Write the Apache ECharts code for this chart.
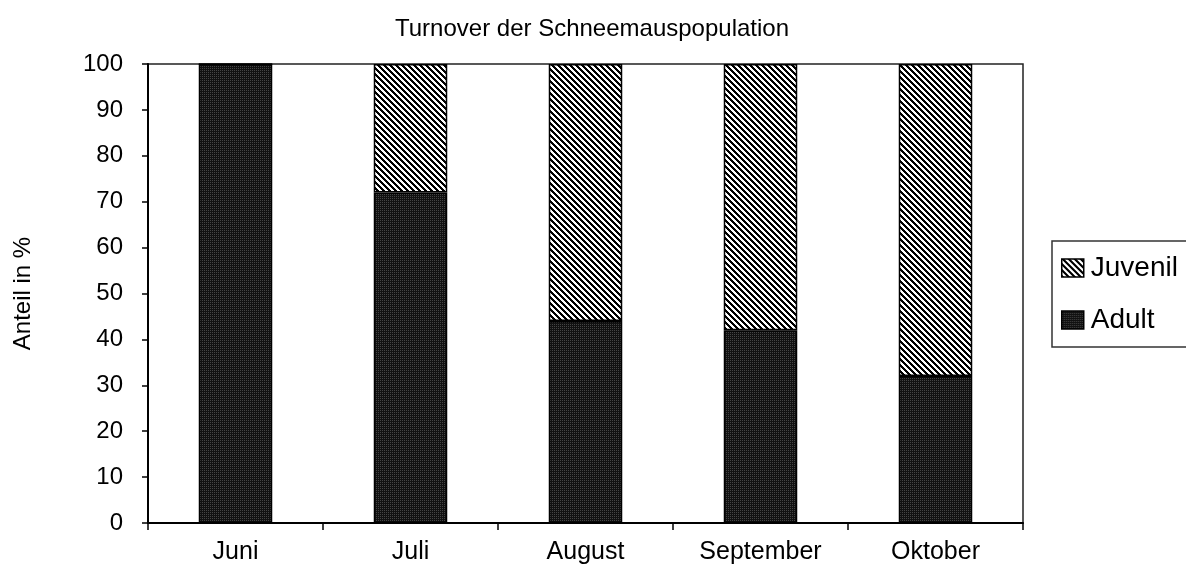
<!DOCTYPE html>
<html>
<head>
<meta charset="utf-8">
<script src="https://cdn.jsdelivr.net/npm/echarts@6/dist/echarts.min.js"></script>
<style>
html, body { margin: 0; padding: 0; background: #fff; }
#chart { width: 1186px; height: 568px; }
</style>
</head>
<body>
<div id="chart"></div>
<script>
var months = ['Juni', 'Juli', 'August', 'September', 'Oktober'];
var adult = [100, 72, 44, 42, 32];
var juvenil = [0, 28, 56, 58, 68];
var yTicks = [0, 10, 20, 30, 40, 50, 60, 70, 80, 90, 100];

// diagonal hatch tile (\\\)
function hatchPattern() {
    var c = document.createElement('canvas');
    c.width = 6; c.height = 6;
    var ctx = c.getContext('2d');
    ctx.fillStyle = '#fff';
    ctx.fillRect(0, 0, 6, 6);
    ctx.fillStyle = '#000';
    for (var x = 0; x < 6; x++) {
        for (var y = 0; y < 6; y++) {
            if ((((x - y) % 6) + 6) % 6 < 3) ctx.fillRect(x, y, 1, 1);
        }
    }
    return { image: c, repeat: 'repeat' };
}

// dark dotted tile
function dotPattern() {
    var c = document.createElement('canvas');
    c.width = 2; c.height = 2;
    var ctx = c.getContext('2d');
    ctx.fillStyle = '#111';
    ctx.fillRect(0, 0, 2, 2);
    ctx.fillStyle = '#444';
    ctx.fillRect(0, 0, 1, 1);
    return { image: c, repeat: 'repeat' };
}

var font = '"Liberation Sans", Arial, Helvetica, sans-serif';

var option = {
    animation: false,
    backgroundColor: '#fff',
    title: {
        text: 'Turnover der Schneemauspopulation',
        left: 587,
        top: 12,
        textAlign: 'center',
        textStyle: { fontFamily: font, fontWeight: 'normal', fontSize: 24, color: '#000' }
    },
    legend: {
        orient: 'vertical',
        left: 1052,
        top: 241,
        padding: [12, 200, 12, 9],
        itemGap: 22,
        itemWidth: 22,
        itemHeight: 18,
        icon: 'rect',
        borderColor: '#333',
        borderWidth: 1.5,
        data: ['Juvenil', 'Adult'],
        itemStyle: { borderColor: '#000', borderWidth: 1.5 },
        textStyle: { fontFamily: font, fontSize: 28, color: '#000', lineHeight: 30, padding: [0, 0, 0, 2] }
    },
    grid: {
        left: 148,
        right: 163,
        top: 64,
        bottom: 45,
        show: true,
        borderColor: '#222',
        borderWidth: 1.5
    },
    xAxis: {
        type: 'category',
        data: months,
        axisLine: { lineStyle: { color: '#000', width: 2 } },
        axisTick: { show: true, length: 7, lineStyle: { color: '#000', width: 1.5 } },
        axisLabel: { fontFamily: font, fontSize: 25, color: '#000', margin: 17 }
    },
    yAxis: {
        type: 'value',
        min: yTicks[0],
        max: yTicks[yTicks.length - 1],
        interval: yTicks[1] - yTicks[0],
        name: 'Anteil in %',
        nameLocation: 'middle',
        nameGap: 113,
        nameTextStyle: { fontFamily: font, fontSize: 24, color: '#000' },
        axisLine: { show: true, lineStyle: { color: '#000', width: 2 } },
        axisTick: { show: true, length: 6, lineStyle: { color: '#000', width: 1.5 } },
        axisLabel: { fontFamily: font, fontSize: 24, color: '#000', margin: 25 },
        splitLine: { show: false }
    },
    series: [
        {
            name: 'Adult',
            type: 'bar',
            stack: 'total',
            barWidth: '42%',
            data: adult,
            itemStyle: { color: dotPattern(), borderColor: '#000', borderWidth: 1.5 }
        },
        {
            name: 'Juvenil',
            type: 'bar',
            stack: 'total',
            barWidth: '42%',
            data: juvenil,
            itemStyle: { color: hatchPattern(), borderColor: '#000', borderWidth: 1.5 }
        }
    ]
};

var chart = echarts.init(document.getElementById('chart'));
chart.setOption(option);
</script>
</body>
</html>
